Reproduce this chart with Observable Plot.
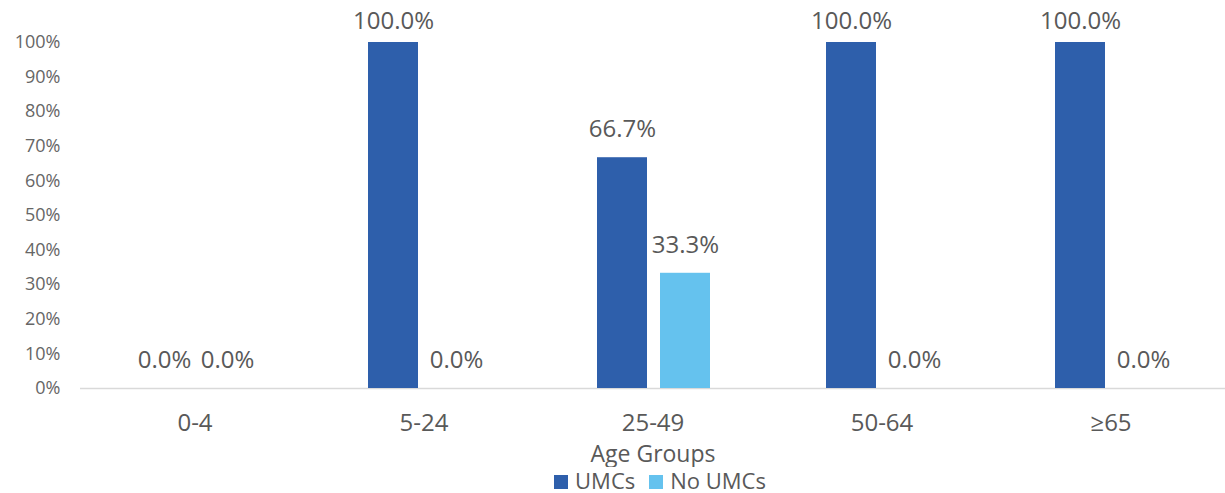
<!DOCTYPE html>
<html><head><meta charset="utf-8">
<script src="https://cdn.jsdelivr.net/npm/d3@7"></script>
<script src="https://cdn.jsdelivr.net/npm/@observablehq/plot@0.6"></script>
<style>
body{margin:0;background:#fff;font-family:"Open Sans",sans-serif;}
#legend{display:flex;justify-content:center;align-items:center;gap:14px;padding-left:95px;width:1130px;height:26px;line-height:26px;font-size:22px;color:#595959;}
#legend span.sw{display:inline-block;width:14px;height:14px;margin-right:7px;vertical-align:middle;position:relative;top:-1px;}
</style></head>
<body><div id="chart"></div><div id="legend"></div>
<script>
const groups = ["0-4", "5-24", "25-49", "50-64", "≥65"];
const seriesNames = ["UMCs", "No UMCs"];
const umcs = [0, 1.0, 0.667, 1.0, 1.0];
const noUmcs = [0, 0, 0.333, 0, 0];
const colors = ["#2E5FAB", "#65C2EE"];
const yTicks = [0, 0.1, 0.2, 0.3, 0.4, 0.5, 0.6, 0.7, 0.8, 0.9, 1.0];

const data = [];
groups.forEach((g, i) => {
  data.push({group: g, series: seriesNames[0], value: umcs[i]});
  data.push({group: g, series: seriesNames[1], value: noUmcs[i]});
});
const pct = d => (d.value * 100).toFixed(1) + "%";
const gray = "#595959";

const chart = Plot.plot({
  width: 1225,
  height: 467,
  marginLeft: 80,
  marginRight: 0,
  marginTop: 42,
  marginBottom: 79,
  style: {fontFamily: "Open Sans, sans-serif", background: "#fff"},
  fx: {domain: groups, padding: 0, label: null},
  x: {domain: seriesNames, paddingInner: 0.203, paddingOuter: 0.898, align: 0.513, axis: null},
  y: {domain: [0, 1], axis: null},
  color: {domain: seriesNames, range: colors},
  marks: [
    Plot.axisY({ticks: yTicks, tickFormat: d => Math.round(d * 100) + "%", tickSize: 0, tickPadding: 20, fontSize: 18, fill: "#666", stroke: "#d9d9d9", line: true, label: null}),
    Plot.axisFx({anchor: "bottom", tickSize: 0, tickPadding: 25, fontSize: 24, fill: gray}),
    Plot.axisFx({anchor: "bottom", ticks: [], tickSize: 0, fontSize: 23, fill: gray, label: "Age Groups", labelAnchor: "center", labelOffset: 73}),
    Plot.ruleY([0], {stroke: "#d9d9d9", strokeWidth: 1.5}),
    Plot.barY(data, {fx: "group", x: "series", y: "value", fill: "series"}),
    Plot.text(data.filter(d => d.value < 1), {fx: "group", x: "series", y: "value", text: pct, dy: -28, fontSize: 24, fill: gray}),
    Plot.text(data.filter(d => d.value >= 1), {fx: "group", x: "series", y: "value", text: pct, dy: -21, fontSize: 24, fill: gray})
  ]
});
document.getElementById("chart").appendChild(chart);

const legend = document.getElementById("legend");
seriesNames.forEach((s, i) => {
  const item = document.createElement("div");
  item.innerHTML = `<span class="sw" style="background:${colors[i]}"></span>${s}`;
  legend.appendChild(item);
});
</script></body></html>
